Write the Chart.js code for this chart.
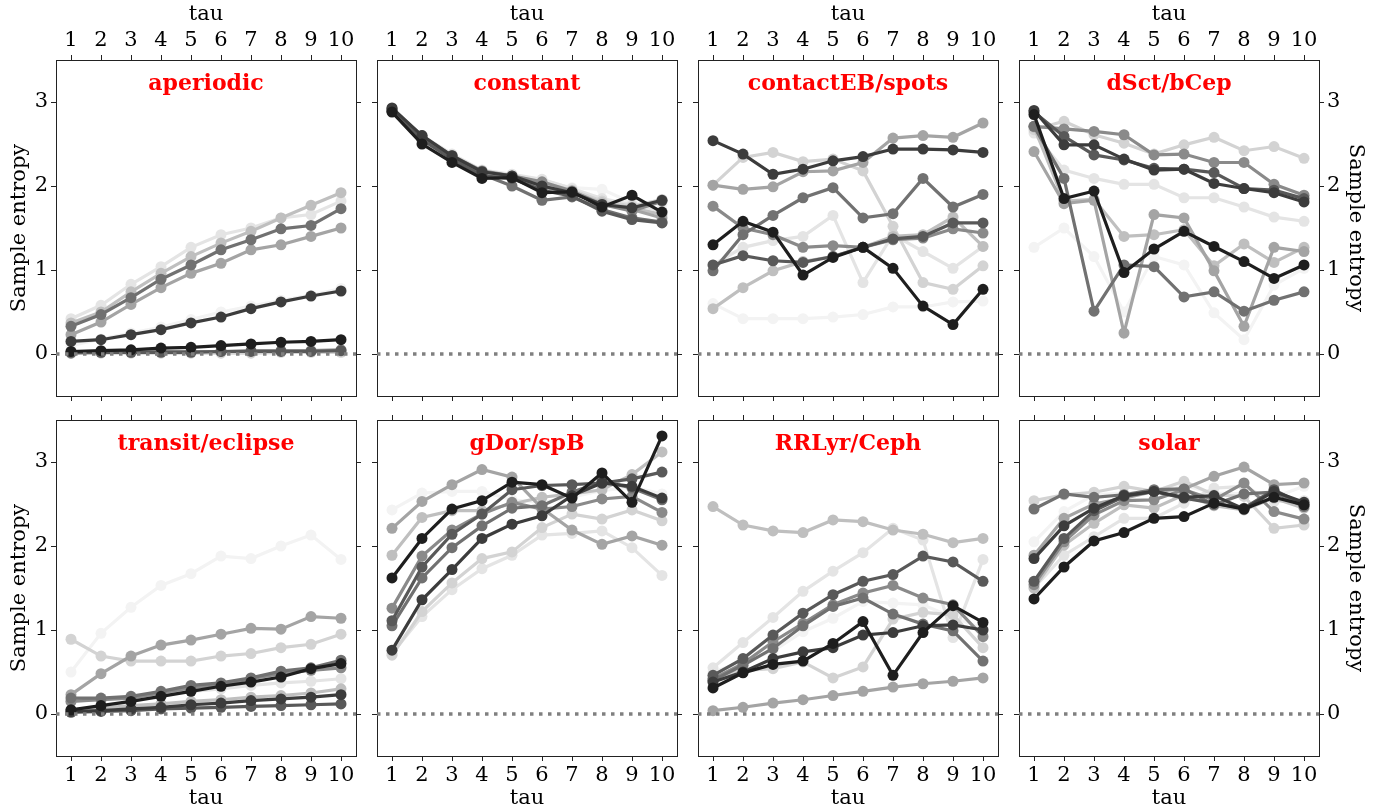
<!DOCTYPE html>
<html>
<head>
<meta charset="utf-8">
<script src="https://cdn.jsdelivr.net/npm/chart.js@4.4.0/dist/chart.umd.min.js"></script>
<style>
html, body { margin: 0; padding: 0; background: #fff; overflow: hidden; width: 1387px; height: 811px; }
canvas { position: absolute; }
</style>
</head>
<body>
<script>
// tau values and tick labels
const tau = [1, 2, 3, 4, 5, 6, 7, 8, 9, 10];
const yTicks = [0, 1, 2, 3];
const panelTitles = ['aperiodic', 'constant', 'contactEB/spots', 'dSct/bCep',
                     'transit/eclipse', 'gDor/spB', 'RRLyr/Ceph', 'solar'];

// one line per star, light to dark
const greys = ['#f3f3f3', '#e4e4e4', '#d3d3d3', '#bfbfbf', '#a4a4a4',
               '#8a8a8a', '#717171', '#595959', '#3c3c3c', '#1e1e1e'];

const aperiodic = [
  [0.10, 0.18, 0.25, 0.32, 0.41, 0.50, 0.57, 0.64, 0.70, 0.78],
  [0.42, 0.58, 0.83, 1.04, 1.27, 1.42, 1.50, 1.62, 1.66, 1.82],
  [0.01, 0.01, 0.01, 0.01, 0.01, 0.01, 0.01, 0.02, 0.02, 0.02],
  [0.37, 0.50, 0.74, 0.96, 1.16, 1.32, 1.46, 1.62, 1.77, 1.92],
  [0.23, 0.38, 0.59, 0.79, 0.96, 1.08, 1.24, 1.30, 1.40, 1.50],
  [0.01, 0.02, 0.02, 0.03, 0.03, 0.03, 0.04, 0.04, 0.04, 0.05],
  [0.33, 0.47, 0.67, 0.89, 1.06, 1.24, 1.36, 1.49, 1.53, 1.73],
  [0.02, 0.02, 0.02, 0.02, 0.02, 0.03, 0.03, 0.03, 0.03, 0.04],
  [0.15, 0.17, 0.23, 0.29, 0.37, 0.44, 0.54, 0.62, 0.69, 0.75],
  [0.03, 0.04, 0.05, 0.07, 0.08, 0.10, 0.12, 0.14, 0.15, 0.17]
];
const constant = [
  [2.90, 2.58, 2.37, 2.18, 2.13, 2.07, 1.98, 1.96, 1.80, 1.78],
  [2.91, 2.60, 2.38, 2.19, 2.14, 2.08, 1.97, 1.85, 1.78, 1.70],
  [2.90, 2.57, 2.35, 2.17, 2.12, 2.04, 1.95, 1.82, 1.76, 1.84],
  [2.89, 2.56, 2.34, 2.16, 2.11, 2.02, 1.93, 1.80, 1.74, 1.66],
  [2.90, 2.58, 2.36, 2.15, 2.10, 1.99, 1.92, 1.78, 1.72, 1.62],
  [2.91, 2.60, 2.36, 2.18, 2.12, 2.05, 1.94, 1.78, 1.70, 1.82],
  [2.92, 2.58, 2.35, 2.14, 2.00, 1.83, 1.87, 1.72, 1.62, 1.57],
  [2.89, 2.55, 2.32, 2.12, 2.09, 1.95, 1.88, 1.70, 1.60, 1.56],
  [2.93, 2.60, 2.36, 2.17, 2.12, 2.00, 1.92, 1.78, 1.74, 1.83],
  [2.88, 2.50, 2.28, 2.09, 2.10, 1.92, 1.93, 1.75, 1.89, 1.69]
];
const contactEB = [
  [0.60, 0.42, 0.42, 0.42, 0.44, 0.47, 0.56, 0.56, 0.62, 0.63],
  [1.06, 1.27, 1.35, 1.40, 1.65, 0.85, 1.42, 1.22, 1.02, 1.28],
  [2.01, 2.34, 2.40, 2.29, 2.32, 2.18, 1.52, 0.85, 0.77, 1.05],
  [0.54, 0.79, 0.99, 1.10, 1.16, 1.27, 1.40, 1.42, 1.63, 1.28],
  [2.01, 1.96, 1.99, 2.17, 2.18, 2.28, 2.57, 2.60, 2.58, 2.75],
  [1.76, 1.50, 1.42, 1.27, 1.29, 1.27, 1.36, 1.38, 1.49, 1.44],
  [0.99, 1.42, 1.65, 1.86, 1.98, 1.62, 1.67, 2.09, 1.75, 1.90],
  [1.06, 1.17, 1.11, 1.09, 1.16, 1.27, 1.37, 1.40, 1.56, 1.56],
  [2.54, 2.38, 2.14, 2.20, 2.30, 2.35, 2.44, 2.44, 2.43, 2.40],
  [1.30, 1.58, 1.45, 0.94, 1.15, 1.27, 1.02, 0.57, 0.35, 0.77]
];
const dSct = [
  [1.27, 1.50, 1.16, 0.50, 1.16, 1.06, 0.49, 0.17, 0.82, 1.02],
  [2.63, 2.19, 2.09, 2.02, 2.02, 1.86, 1.86, 1.75, 1.63, 1.58],
  [2.67, 2.77, 2.61, 2.51, 2.38, 2.49, 2.58, 2.42, 2.47, 2.33],
  [2.70, 1.82, 1.84, 1.40, 1.42, 1.48, 1.05, 1.31, 1.09, 1.27],
  [2.41, 1.79, 1.83, 0.25, 1.66, 1.62, 0.99, 0.33, 1.27, 1.22],
  [2.71, 2.68, 2.65, 2.61, 2.37, 2.38, 2.28, 2.28, 2.02, 1.89],
  [2.71, 2.09, 0.51, 1.06, 1.04, 0.68, 0.74, 0.51, 0.64, 0.74],
  [2.88, 2.59, 2.37, 2.31, 2.21, 2.20, 2.16, 1.97, 1.95, 1.85],
  [2.90, 2.49, 2.49, 2.32, 2.19, 2.20, 2.03, 1.97, 1.92, 1.81],
  [2.85, 1.85, 1.94, 0.97, 1.25, 1.46, 1.28, 1.10, 0.90, 1.06]
];
const transit = [
  [0.50, 0.96, 1.27, 1.53, 1.67, 1.88, 1.85, 2.00, 2.13, 1.84],
  [0.15, 0.17, 0.20, 0.23, 0.27, 0.30, 0.34, 0.37, 0.39, 0.42],
  [0.89, 0.69, 0.63, 0.63, 0.63, 0.69, 0.72, 0.79, 0.83, 0.95],
  [0.05, 0.07, 0.10, 0.12, 0.15, 0.17, 0.20, 0.22, 0.25, 0.30],
  [0.23, 0.48, 0.69, 0.82, 0.88, 0.95, 1.02, 1.01, 1.16, 1.14],
  [0.15, 0.17, 0.19, 0.25, 0.31, 0.35, 0.42, 0.48, 0.52, 0.55],
  [0.19, 0.19, 0.21, 0.27, 0.34, 0.37, 0.43, 0.51, 0.55, 0.64],
  [0.02, 0.03, 0.04, 0.06, 0.07, 0.08, 0.09, 0.10, 0.11, 0.12],
  [0.03, 0.04, 0.06, 0.08, 0.11, 0.13, 0.16, 0.18, 0.20, 0.23],
  [0.05, 0.10, 0.15, 0.21, 0.27, 0.33, 0.38, 0.44, 0.54, 0.60]
];
const gDor = [
  [2.43, 2.63, 2.65, 2.65, 2.55, 2.52, 2.58, 2.66, 2.70, 2.62],
  [0.72, 1.16, 1.48, 1.73, 1.89, 2.13, 2.15, 2.18, 1.98, 1.65],
  [0.70, 1.22, 1.56, 1.85, 1.93, 2.22, 2.38, 2.32, 2.43, 2.30],
  [1.89, 2.34, 2.42, 2.42, 2.50, 2.58, 2.62, 2.67, 2.85, 3.12],
  [2.21, 2.53, 2.73, 2.91, 2.82, 2.45, 2.19, 2.02, 2.12, 2.01],
  [1.26, 1.88, 2.19, 2.38, 2.52, 2.44, 2.47, 2.56, 2.59, 2.40],
  [1.05, 1.62, 1.98, 2.24, 2.45, 2.48, 2.64, 2.77, 2.69, 2.55],
  [1.11, 1.75, 2.14, 2.38, 2.67, 2.72, 2.73, 2.75, 2.80, 2.88],
  [0.76, 1.36, 1.72, 2.09, 2.26, 2.36, 2.60, 2.75, 2.71, 2.57],
  [1.62, 2.09, 2.44, 2.54, 2.76, 2.73, 2.57, 2.87, 2.52, 3.31]
];
const rrLyr = [
  [0.50, 0.62, 0.75, 0.98, 1.14, 1.34, 1.32, 1.30, 1.15, 1.02],
  [0.55, 0.85, 1.15, 1.46, 1.70, 1.92, 2.21, 2.07, 0.91, 1.84],
  [0.42, 0.52, 0.54, 0.62, 0.43, 0.56, 1.13, 1.21, 1.18, 0.79],
  [2.47, 2.25, 2.18, 2.16, 2.31, 2.29, 2.19, 2.14, 2.04, 2.09],
  [0.04, 0.08, 0.13, 0.17, 0.22, 0.27, 0.32, 0.36, 0.39, 0.43],
  [0.42, 0.60, 0.86, 1.08, 1.30, 1.44, 1.53, 1.38, 1.30, 0.92],
  [0.40, 0.58, 0.78, 1.05, 1.28, 1.38, 1.19, 1.07, 0.99, 0.63],
  [0.46, 0.66, 0.94, 1.20, 1.42, 1.58, 1.66, 1.88, 1.81, 1.58],
  [0.38, 0.50, 0.66, 0.74, 0.79, 0.94, 0.97, 1.05, 1.06, 1.00],
  [0.31, 0.49, 0.59, 0.63, 0.84, 1.10, 0.46, 0.97, 1.29, 1.09]
];
const solar = [
  [2.05, 2.41, 2.61, 2.63, 2.65, 2.72, 2.63, 2.62, 2.58, 2.71],
  [1.50, 1.89, 2.11, 2.33, 2.33, 2.51, 2.69, 2.71, 2.53, 2.54],
  [2.54, 2.61, 2.64, 2.71, 2.65, 2.77, 2.61, 2.59, 2.21, 2.25],
  [1.50, 2.01, 2.27, 2.49, 2.45, 2.61, 2.48, 2.43, 2.57, 2.45],
  [1.89, 2.33, 2.50, 2.57, 2.65, 2.68, 2.83, 2.94, 2.73, 2.75],
  [1.54, 2.05, 2.37, 2.54, 2.55, 2.67, 2.55, 2.75, 2.41, 2.32],
  [2.44, 2.62, 2.58, 2.61, 2.67, 2.68, 2.49, 2.62, 2.64, 2.47],
  [1.58, 2.09, 2.42, 2.59, 2.65, 2.57, 2.51, 2.45, 2.67, 2.49],
  [1.85, 2.24, 2.45, 2.60, 2.65, 2.58, 2.60, 2.44, 2.65, 2.52],
  [1.37, 1.75, 2.06, 2.16, 2.33, 2.35, 2.51, 2.44, 2.58, 2.49]
];
const panelData = [aperiodic, constant, contactEB, dSct, transit, gDor, rrLyr, solar];

// layout of the 2x4 grid (page pixels)
const pageW = 1387, pageH = 811;
const panelLeft = [56, 377, 698, 1019];
const panelTop = [60, 420];
const plotW = 300, plotH = 336;
const inner = 22; // margin on sides that carry no labels

Chart.defaults.font.family = '"DejaVu Serif", serif';
Chart.defaults.font.size = 21;
Chart.defaults.color = '#000';

const panelTitle = {
  id: 'panelTitle',
  afterDatasetsDraw(chart, args, opts) {
    const { ctx, chartArea } = chart;
    ctx.save();
    ctx.font = 'bold 22px "DejaVu Serif", serif';
    ctx.fillStyle = '#ff0000';
    ctx.textAlign = 'center';
    ctx.textBaseline = 'alphabetic';
    ctx.fillText(opts.text, (chartArea.left + chartArea.right) / 2, chartArea.top + 30);
    ctx.restore();
  }
};

function axis(position, size, min, max, ticks, showLabels, title, titlePad) {
  const horiz = position === 'top' || position === 'bottom';
  return {
    type: 'linear',
    position: position,
    min: min,
    max: max,
    afterBuildTicks: s => { s.ticks = ticks.map(v => ({ value: v })); },
    afterFit: s => { if (horiz) s.height = size; else s.width = size; },
    grid: { drawOnChartArea: false, drawTicks: true, tickLength: 5, color: '#222', lineWidth: 1 },
    border: { display: true, color: '#222', width: 1 },
    ticks: { display: showLabels, padding: horiz ? 2 : 3, maxRotation: 0, autoSkip: false, color: '#000' },
    title: { display: showLabels, text: title, padding: titlePad, font: { size: 21 }, color: '#000' }
  };
}

panelData.forEach((series, i) => {
  const row = Math.floor(i / 4), col = i % 4;
  const L = col === 0 ? panelLeft[0] : inner;
  const R = col === 3 ? pageW - (panelLeft[3] + plotW) : inner;
  const T = row === 0 ? panelTop[0] : inner;
  const B = row === 1 ? pageH - (panelTop[1] + plotH) : inner;

  const cv = document.createElement('canvas');
  cv.width = plotW + L + R;
  cv.height = plotH + T + B;
  cv.style.width = cv.width + 'px';
  cv.style.height = cv.height + 'px';
  cv.style.left = (panelLeft[col] - L) + 'px';
  cv.style.top = (panelTop[row] - T) + 'px';
  document.body.appendChild(cv);

  const datasets = series.map((vals, k) => ({
    data: vals.map((v, j) => ({ x: tau[j], y: v })),
    borderColor: greys[k],
    backgroundColor: greys[k],
    pointBackgroundColor: greys[k],
    borderWidth: 3.2,
    pointRadius: 5.5,
    pointHoverRadius: 5.5,
    pointBorderWidth: 0,
    order: 10 - k,
    xAxisID: 'x',
    yAxisID: 'y'
  }));
  // dotted zero line
  datasets.push({
    data: [{ x: 0.5, y: 0 }, { x: 10.5, y: 0 }],
    borderColor: '#808080',
    borderWidth: 3.5,
    borderDash: [3.5, 5.5],
    pointRadius: 0,
    order: -1,
    xAxisID: 'x',
    yAxisID: 'y'
  });

  new Chart(cv.getContext('2d'), {
    type: 'line',
    data: { datasets: datasets },
    plugins: [panelTitle],
    options: {
      responsive: false,
      animation: false,
      events: [],
      layout: { padding: 0, autoPadding: false },
      plugins: {
        legend: { display: false },
        tooltip: { enabled: false },
        panelTitle: { text: panelTitles[i] }
      },
      scales: {
        x: axis('bottom', B, 0.5, 10.5, tau, row === 1, 'tau', { top: 0, bottom: 0 }),
        x2: axis('top', T, 0.5, 10.5, tau, row === 0, 'tau', { top: 2, bottom: 0 }),
        y: axis('left', L, -0.5, 3.5, yTicks, col === 0, 'Sample entropy', { top: 7, bottom: 0 }),
        y2: axis('right', R, -0.5, 3.5, yTicks, col === 3, 'Sample entropy', { top: 19, bottom: 0 })
      }
    }
  });
});
</script>
</body>
</html>
